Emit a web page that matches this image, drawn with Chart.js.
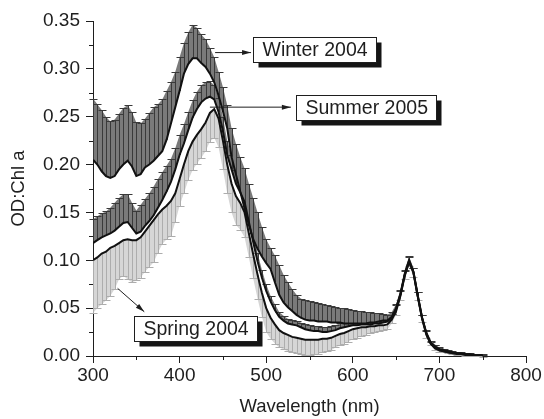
<!DOCTYPE html>
<html>
<head>
<meta charset="utf-8">
<script src="https://cdn.jsdelivr.net/npm/chart.js@4.4.0/dist/chart.umd.min.js"></script>
<style>
  html, body { margin: 0; padding: 0; background: #fff; }
  #wrap { width: 544px; height: 419px; }
</style>
</head>
<body>
<div id="wrap"><canvas id="spectra" width="544" height="419"></canvas></div>
<script>
// Wavelength grid (nm)
const wavelengths = [
  300, 305, 310, 315, 320, 325, 330, 335, 340, 345,
  350, 355, 360, 365, 370, 375, 380, 385, 390, 395,
  400, 405, 410, 415, 420, 425, 430, 435, 440, 445,
  450, 455, 460, 465, 470, 475, 480, 485, 490, 495,
  500, 505, 510, 515, 520, 525, 530, 535, 540, 545,
  550, 555, 560, 565, 570, 575, 580, 585, 590, 595,
  600, 605, 610, 615, 620, 625, 630, 635, 640, 645,
  650, 655, 660, 665, 670, 675, 680, 685, 690, 695,
  700, 705, 710, 715, 720, 725, 730, 735, 740, 745,
  750
];

// Winter 2004 mean OD:Chl a and error (drawn upward)
const winterMean = [
  .205, .200, .193, .188, .186, .188, .195, .200, .204, .198,
  .188, .190, .197, .200, .204, .209, .214, .226, .243, .260,
  .277, .295, .305, .311, .311, .306, .302, .295, .286, .272,
  .256, .238, .208, .190, .172, .154, .137, .122, .112, .104,
  .097, .091, .077, .064, .056, .051, .047, .043, .040, .038,
  .037, .037, .036, .036, .036, .035, .035, .035, .034, .034,
  .034, .034, .034, .034, .035, .035, .036, .037, .037, .041,
  .050, .065, .086, .100, .088, .063, .040, .024, .014, .010,
  .007, .006, .005, .004, .003, .003, .002, .002, .001, .001,
  .001
];
const winterErr = [
  .064, .063, .064, .062, .059, .059, .058, .059, .058, .057,
  .056, .053, .051, .054, .056, .054, .054, .051, .043, .037,
  .035, .032, .033, .035, .032, .030, .029, .027, .026, .025,
  .025, .024, .030, .032, .036, .042, .043, .043, .038, .031,
  .025, .022, .028, .031, .029, .026, .023, .021, .020, .020,
  .020, .019, .019, .018, .017, .017, .016, .015, .016, .015,
  .014, .013, .013, .012, .011, .010, .009, .007, .006, .005,
  .004, .004, .004, .004, .004, .004, .003, .003, .002, .002,
  .002, .001, .001, .001, .001, .001, .001, .001, .001, .001,
  .001
];

// Summer 2005 mean and error (drawn upward)
const summerMean = [
  .118, .121, .124, .126, .128, .131, .135, .139, .140, .134,
  .128, .130, .136, .141, .147, .155, .163, .172, .182, .195,
  .210, .222, .236, .249, .258, .265, .269, .271, .268, .255,
  .235, .210, .195, .180, .171, .161, .140, .119, .099, .082,
  .068, .057, .048, .041, .037, .034, .033, .032, .030, .028,
  .027, .026, .026, .025, .025, .026, .027, .029, .030, .031,
  .032, .032, .033, .033, .033, .034, .034, .035, .036, .040,
  .049, .064, .085, .099, .088, .063, .040, .023, .013, .009,
  .006, .005, .004, .003, .003, .002, .002, .001, .001, .001,
  .000
];
const summerErr = [
  .025, .025, .025, .025, .027, .029, .030, .030, .029, .026,
  .024, .028, .028, .029, .030, .030, .029, .027, .024, .022,
  .021, .020, .019, .018, .018, .018, .017, .016, .015, .015,
  .015, .015, .015, .014, .013, .012, .011, .010, .009, .008,
  .007, .006, .006, .005, .005, .005, .005, .005, .005, .005,
  .005, .005, .005, .005, .005, .005, .005, .005, .005, .005,
  .005, .005, .005, .005, .005, .005, .005, .005, .005, .004,
  .004, .004, .004, .004, .004, .004, .003, .003, .002, .002,
  .002, .001, .001, .001, .001, .001, .001, .001, .001, .001,
  .001
];

// Spring 2004 mean and error (drawn downward)
const springMean = [
  .100, .103, .107, .109, .113, .115, .118, .121, .122, .121,
  .121, .124, .130, .136, .142, .148, .153, .157, .162, .170,
  .185, .200, .214, .224, .231, .237, .244, .254, .258, .248,
  .225, .200, .180, .167, .160, .150, .128, .106, .085, .066,
  .050, .040, .033, .027, .024, .022, .020, .019, .018, .017,
  .017, .017, .017, .018, .018, .019, .021, .023, .024, .026,
  .028, .029, .030, .030, .031, .031, .032, .032, .033, .038,
  .047, .063, .084, .098, .087, .062, .039, .022, .013, .008,
  .006, .005, .004, .003, .002, .002, .001, .001, .001, .001,
  .000
];
const springErr = [
  .055, .053, .053, .051, .050, .045, .038, .037, .042, .044,
  .042, .042, .042, .043, .044, .040, .036, .035, .037, .030,
  .028, .030, .030, .030, .030, .030, .030, .030, .030, .030,
  .030, .030, .030, .030, .028, .026, .025, .025, .025, .025,
  .025, .022, .020, .018, .017, .017, .016, .016, .016, .016,
  .016, .015, .015, .014, .013, .013, .012, .012, .011, .011,
  .010, .010, .009, .008, .007, .006, .006, .005, .005, .004,
  .004, .004, .004, .004, .004, .004, .003, .003, .002, .002,
  .002, .001, .001, .001, .001, .001, .001, .001, .001, .001,
  .001
];

const seriesNames = ['Winter 2004', 'Summer 2005', 'Spring 2004'];
const xMinorTicks = [350, 450, 550, 650, 750];
const yMinorTicks = [0.025, 0.075, 0.125, 0.175, 0.225, 0.275, 0.325];

const FONT = "'Liberation Sans', Arial, sans-serif";
const INK = '#1e1e1e';

function toPoints(vals) {
  return wavelengths.map((w, i) => ({ x: w, y: vals[i] }));
}

function bandPoints(mean, err, dir) {
  return wavelengths.map((w, i) => ({ x: w, y: mean[i] + dir * err[i] }));
}

// error bars with caps, drawn right after each band dataset
const errorBarPlugin = {
  id: 'errorBars',
  afterDatasetDraw(chart, args) {
    const ds = chart.data.datasets[args.index];
    if (!ds.errorBars) return;
    const { mean, err, dir, color } = ds.errorBars;
    const xs = chart.scales.x;
    const ys = chart.scales.y;
    const ctx = chart.ctx;
    ctx.save();
    ctx.strokeStyle = color;
    ctx.lineWidth = 1;
    ctx.beginPath();
    wavelengths.forEach((w, i) => {
      const px = Math.round(xs.getPixelForValue(w)) + 0.5;
      const y0 = ys.getPixelForValue(mean[i]);
      const y1 = Math.round(ys.getPixelForValue(mean[i] + dir * err[i])) + 0.5;
      ctx.moveTo(px, y0);
      ctx.lineTo(px, y1);
      ctx.moveTo(px - 4, y1);
      ctx.lineTo(px + 4, y1);
    });
    ctx.stroke();
    ctx.restore();
  }
};

// minor ticks on both axes
const minorTickPlugin = {
  id: 'minorTicks',
  afterDraw(chart) {
    const { ctx, chartArea } = chart;
    const xs = chart.scales.x;
    const ys = chart.scales.y;
    ctx.save();
    ctx.strokeStyle = INK;
    ctx.lineWidth = 1;
    ctx.beginPath();
    xMinorTicks.forEach(v => {
      const px = Math.round(xs.getPixelForValue(v)) + 0.5;
      ctx.moveTo(px, chartArea.bottom);
      ctx.lineTo(px, chartArea.bottom + 4);
    });
    yMinorTicks.forEach(v => {
      const py = Math.round(ys.getPixelForValue(v)) + 0.5;
      ctx.moveTo(chartArea.left, py);
      ctx.lineTo(chartArea.left - 4, py);
    });
    ctx.stroke();
    ctx.restore();
  }
};

// labelled boxes with arrows pointing at the curves
const callouts = [
  { text: seriesNames[0], from: [441, 0.317], to: [482.5, 0.317], box: [485, 0.333] },
  { text: seriesNames[1], from: [435, 0.260], to: [528.5, 0.260], box: [534.2, 0.273] },
  { text: seriesNames[2], from: [328.4, 0.0707], to: [359.2, 0.0462], box: [346.8, 0.0421] }
];

const calloutPlugin = {
  id: 'callouts',
  afterDraw(chart) {
    const ctx = chart.ctx;
    const xs = chart.scales.x;
    const ys = chart.scales.y;
    ctx.save();
    ctx.font = '19.5px ' + FONT;
    callouts.forEach(c => {
      // arrow
      const x0 = xs.getPixelForValue(c.from[0]), y0 = ys.getPixelForValue(c.from[1]);
      const x1 = xs.getPixelForValue(c.to[0]), y1 = ys.getPixelForValue(c.to[1]);
      ctx.strokeStyle = INK;
      ctx.fillStyle = INK;
      ctx.lineWidth = 1;
      ctx.beginPath();
      ctx.moveTo(x0, y0);
      ctx.lineTo(x1, y1);
      ctx.stroke();
      const ang = Math.atan2(y1 - y0, x1 - x0);
      ctx.beginPath();
      ctx.moveTo(x1, y1);
      ctx.lineTo(x1 - 9 * Math.cos(ang) + 2.5 * Math.sin(ang), y1 - 9 * Math.sin(ang) - 2.5 * Math.cos(ang));
      ctx.lineTo(x1 - 9 * Math.cos(ang) - 2.5 * Math.sin(ang), y1 - 9 * Math.sin(ang) + 2.5 * Math.cos(ang));
      ctx.closePath();
      ctx.fill();

      // box with drop shadow
      const bx = Math.round(xs.getPixelForValue(c.box[0])) + 0.5;
      const by = Math.round(ys.getPixelForValue(c.box[1])) + 0.5;
      const bw = Math.round(ctx.measureText(c.text).width + 18);
      const bh = 25;
      ctx.fillStyle = '#151515';
      ctx.fillRect(bx + 5, by + 5, bw, bh);
      ctx.fillStyle = '#fff';
      ctx.fillRect(bx, by, bw, bh);
      ctx.strokeStyle = INK;
      ctx.strokeRect(bx, by, bw, bh);
      ctx.fillStyle = INK;
      ctx.textBaseline = 'middle';
      ctx.textAlign = 'left';
      ctx.fillText(c.text, bx + 9, by + bh / 2 + 1);
    });
    ctx.restore();
  }
};

function meanDataset(vals) {
  return {
    data: toPoints(vals),
    borderColor: '#111',
    borderWidth: 2,
    pointRadius: 0,
    fill: false,
    tension: 0,
    order: 1
  };
}

function bandDataset(mean, err, dir, target, fillColor, barColor) {
  return {
    data: bandPoints(mean, err, dir),
    borderColor: 'rgba(0,0,0,0)',
    borderWidth: 0,
    pointRadius: 0,
    backgroundColor: fillColor,
    fill: { target: target },
    tension: 0,
    order: 2,
    errorBars: { mean: mean, err: err, dir: dir, color: barColor }
  };
}

const ctx = document.getElementById('spectra').getContext('2d');

new Chart(ctx, {
  type: 'line',
  data: {
    datasets: [
      meanDataset(winterMean),
      meanDataset(summerMean),
      meanDataset(springMean),
      bandDataset(winterMean, winterErr, 1, 0, '#7a7a7a', '#3a3a3a'),
      bandDataset(summerMean, summerErr, 1, 1, '#7a7a7a', '#3a3a3a'),
      bandDataset(springMean, springErr, -1, 2, '#d6d6d6', '#adadad')
    ]
  },
  options: {
    responsive: false,
    animation: false,
    layout: {
      padding: { top: 21, right: 18, bottom: 0, left: 0 }
    },
    scales: {
      x: {
        type: 'linear',
        min: 300,
        max: 800,
        afterFit(scale) { scale.height = 63; },
        ticks: {
          stepSize: 100,
          color: INK,
          padding: 1,
          font: { family: FONT, size: 19 }
        },
        grid: {
          drawOnChartArea: false,
          tickLength: 7,
          tickColor: INK
        },
        border: { display: true, color: INK, width: 1 },
        title: {
          display: true,
          text: 'Wavelength (nm)',
          color: INK,
          font: { family: FONT, size: 18.5 },
          padding: { top: 0, bottom: 1 }
        }
      },
      y: {
        type: 'linear',
        min: 0,
        max: 0.35,
        afterFit(scale) { scale.width = 93; },
        ticks: {
          stepSize: 0.05,
          color: INK,
          padding: 6,
          font: { family: FONT, size: 19 },
          callback: v => v.toFixed(2)
        },
        grid: {
          drawOnChartArea: false,
          tickLength: 7,
          tickColor: INK
        },
        border: { display: true, color: INK, width: 1 },
        title: {
          display: true,
          text: 'OD:Chl a',
          color: INK,
          font: { family: FONT, size: 18.5 },
          padding: { top: 8, bottom: 0 }
        }
      }
    },
    plugins: {
      legend: { display: false },
      tooltip: { enabled: false }
    }
  },
  plugins: [errorBarPlugin, minorTickPlugin, calloutPlugin]
});
</script>
</body>
</html>
